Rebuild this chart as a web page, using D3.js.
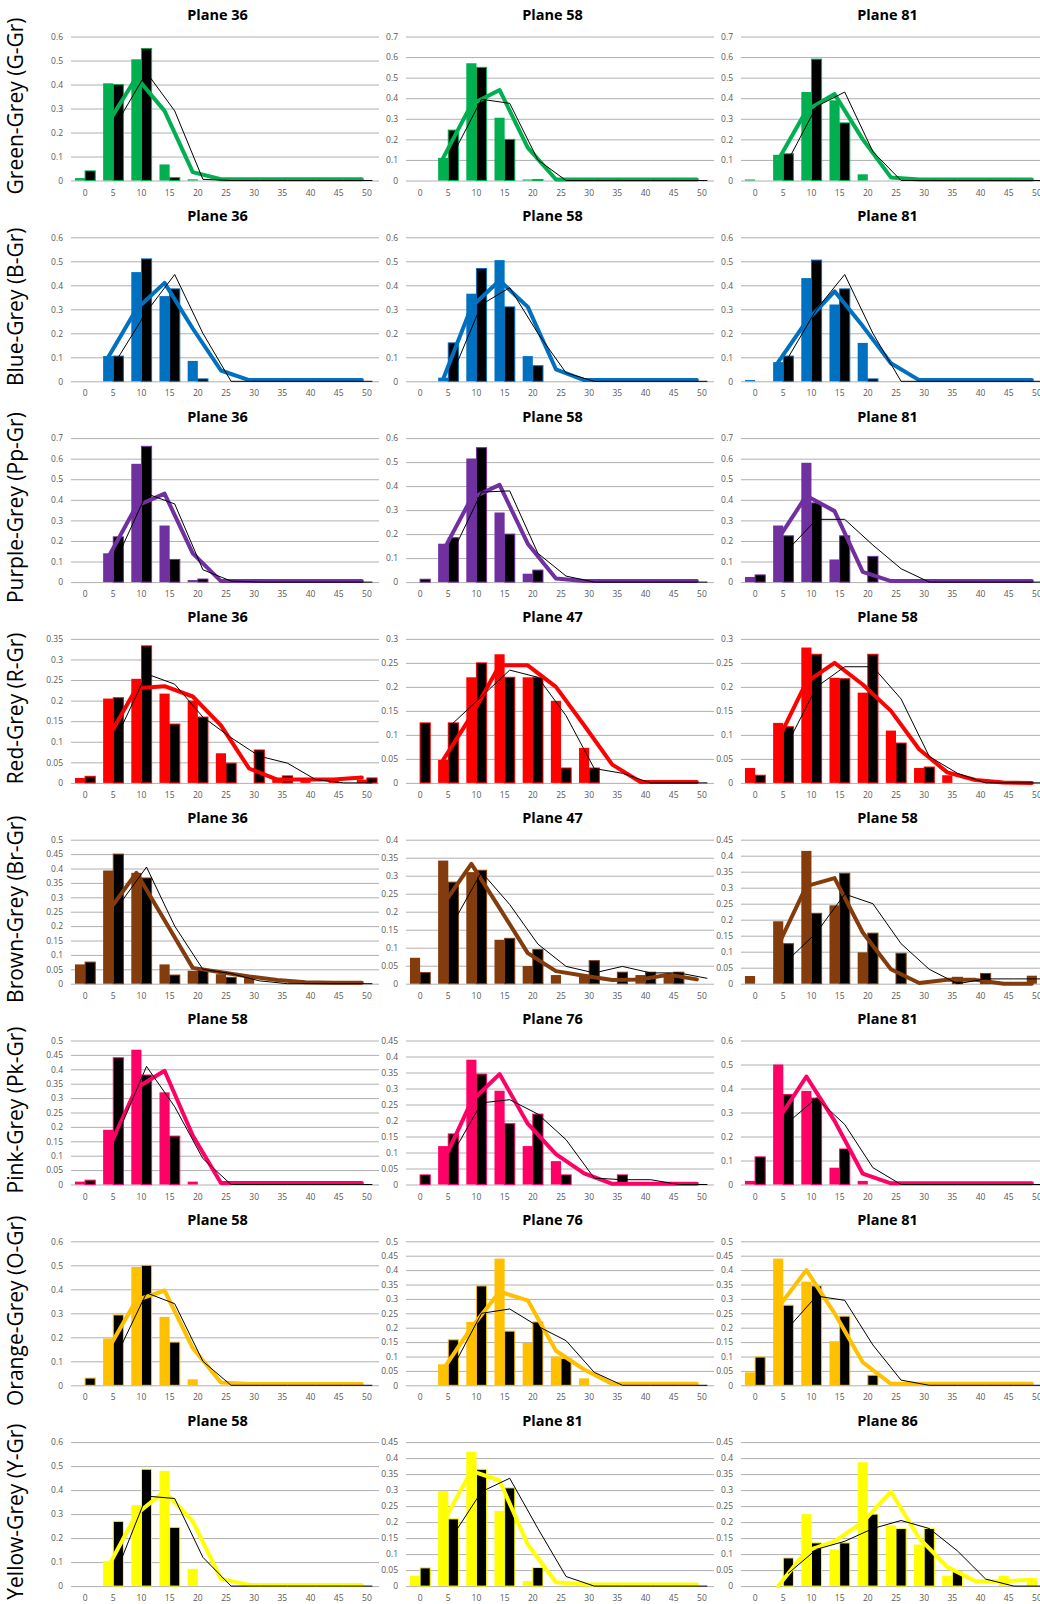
<!DOCTYPE html>
<html>
<head>
<meta charset="utf-8">
<script src="https://cdn.jsdelivr.net/npm/d3@7"></script>
<style>
  body { margin: 0; background: #fff; }
  svg { display: block; font-family: "Open Sans", sans-serif; }
</style>
</head>
<body>
<script>
const width = 1040,
      height = 1604;

const rowPitch = 200.8,
      plotTop = 36.5,
      plotBottom = 180.5,
      plotWidth = 310,
      colX = [71, 406, 741];

const categories = ["0", "5", "10", "15", "20", "25", "30", "35", "40", "45", "50"];

const rowLabels = ["Green-Grey (G-Gr)", "Blue-Grey (B-Gr)", "Purple-Grey (Pp-Gr)", "Red-Grey (R-Gr)",
                   "Brown-Grey (Br-Gr)", "Pink-Grey (Pk-Gr)", "Orange-Grey (O-Gr)", "Yellow-Grey (Y-Gr)"];
const rowColours = ["#00b050", "#0070c0", "#7030a0", "#ff0000", "#843c0c", "#ff0066", "#ffc000", "#ffff00"];

const planes = [
  [36, 58, 81], [36, 58, 81], [36, 58, 81], [36, 47, 58],
  [36, 47, 58], [58, 76, 81], [58, 76, 81], [58, 81, 86]
];

const yMax = [
  [0.6, 0.7, 0.7], [0.6, 0.6, 0.6], [0.7, 0.6, 0.7], [0.35, 0.3, 0.3],
  [0.5, 0.4, 0.45], [0.5, 0.45, 0.6], [0.6, 0.5, 0.5], [0.6, 0.45, 0.45]
];
const yStep = [
  [0.1, 0.1, 0.1], [0.1, 0.1, 0.1], [0.1, 0.1, 0.1], [0.05, 0.05, 0.05],
  [0.05, 0.05, 0.05], [0.05, 0.05, 0.1], [0.1, 0.05, 0.05], [0.1, 0.05, 0.05]
];

// coloured histogram, per row then per plane
const colourBars = [
  [[0.01, 0.405, 0.505, 0.067, 0.005, 0, 0, 0, 0, 0, 0],
   [0, 0.11, 0.57, 0.305, 0.005, 0, 0, 0, 0, 0, 0],
   [0.005, 0.125, 0.43, 0.39, 0.03, 0, 0, 0, 0, 0, 0]],
  [[0, 0.105, 0.455, 0.355, 0.085, 0, 0, 0, 0, 0, 0],
   [0, 0.015, 0.365, 0.505, 0.105, 0, 0, 0, 0, 0, 0],
   [0.005, 0.08, 0.43, 0.32, 0.16, 0, 0, 0, 0, 0, 0]],
  [[0, 0.14, 0.575, 0.275, 0.01, 0, 0, 0, 0, 0, 0],
   [0, 0.16, 0.515, 0.29, 0.035, 0, 0, 0, 0, 0, 0],
   [0.025, 0.275, 0.58, 0.11, 0, 0, 0, 0, 0, 0, 0]],
  [[0.012, 0.205, 0.253, 0.217, 0.2, 0.072, 0, 0.01, 0.008, 0.01, 0.008],
   [0, 0.048, 0.22, 0.268, 0.22, 0.171, 0.073, 0, 0, 0, 0],
   [0.031, 0.125, 0.282, 0.219, 0.188, 0.109, 0.031, 0.016, 0, 0, 0]],
  [[0.067, 0.393, 0.385, 0.067, 0.045, 0.033, 0.02, 0, 0, 0.008, 0],
   [0.072, 0.342, 0.31, 0.122, 0.049, 0.024, 0.024, 0, 0.024, 0.024, 0],
   [0.024, 0.195, 0.415, 0.245, 0.098, 0, 0, 0, 0, 0, 0.025]],
  [[0.01, 0.19, 0.468, 0.32, 0.01, 0, 0, 0, 0, 0, 0],
   [0, 0.12, 0.39, 0.293, 0.12, 0.073, 0, 0, 0, 0, 0],
   [0.015, 0.5, 0.39, 0.07, 0.015, 0, 0, 0, 0, 0, 0]],
  [[0, 0.195, 0.493, 0.285, 0.025, 0, 0, 0, 0, 0, 0],
   [0, 0.073, 0.22, 0.44, 0.147, 0.1, 0.024, 0, 0, 0, 0],
   [0.045, 0.44, 0.36, 0.153, 0, 0, 0, 0, 0, 0, 0]],
  [[0, 0.105, 0.338, 0.48, 0.072, 0, 0, 0, 0, 0, 0],
   [0.032, 0.297, 0.42, 0.235, 0.016, 0, 0, 0, 0, 0, 0],
   [0, 0, 0.225, 0.115, 0.387, 0.19, 0.13, 0.032, 0, 0.032, 0.025]]
];

// grey (black) histogram
const greyBars = [
  [[0.04, 0.4, 0.55, 0.012, 0, 0, 0, 0, 0, 0, 0],
   [0, 0.245, 0.55, 0.2, 0.005, 0, 0, 0, 0, 0, 0],
   [0, 0.13, 0.59, 0.28, 0, 0, 0, 0, 0, 0, 0]],
  [[0, 0.105, 0.51, 0.385, 0.01, 0, 0, 0, 0, 0, 0],
   [0, 0.16, 0.47, 0.31, 0.065, 0, 0, 0, 0, 0, 0],
   [0, 0.105, 0.505, 0.385, 0.01, 0, 0, 0, 0, 0, 0]],
  [[0, 0.22, 0.66, 0.11, 0.015, 0, 0, 0, 0, 0, 0],
   [0.012, 0.185, 0.56, 0.2, 0.05, 0, 0, 0, 0, 0, 0],
   [0.035, 0.225, 0.385, 0.225, 0.125, 0, 0, 0, 0, 0, 0]],
  [[0.016, 0.207, 0.333, 0.143, 0.16, 0.048, 0.08, 0.017, 0, 0, 0.012],
   [0.125, 0.125, 0.25, 0.22, 0.22, 0.031, 0.031, 0, 0, 0, 0],
   [0.016, 0.117, 0.268, 0.217, 0.268, 0.083, 0.033, 0, 0, 0, 0]],
  [[0.075, 0.45, 0.367, 0.03, 0.05, 0.022, 0, 0, 0, 0, 0],
   [0.031, 0.282, 0.315, 0.126, 0.095, 0, 0.064, 0.032, 0.032, 0.032, 0],
   [0, 0.125, 0.22, 0.345, 0.158, 0.095, 0, 0.02, 0.032, 0, 0]],
  [[0.015, 0.44, 0.38, 0.168, 0, 0, 0, 0, 0, 0, 0],
   [0.03, 0.158, 0.345, 0.19, 0.22, 0.03, 0, 0.03, 0, 0, 0],
   [0.115, 0.375, 0.36, 0.148, 0, 0, 0, 0, 0, 0, 0]],
  [[0.03, 0.293, 0.5, 0.18, 0, 0, 0, 0, 0, 0, 0],
   [0, 0.158, 0.345, 0.188, 0.22, 0.093, 0, 0, 0, 0, 0],
   [0.098, 0.278, 0.345, 0.24, 0.035, 0, 0, 0, 0, 0, 0]],
  [[0, 0.27, 0.487, 0.245, 0, 0, 0, 0, 0, 0, 0],
   [0.057, 0.21, 0.365, 0.307, 0.058, 0, 0, 0, 0, 0, 0],
   [0, 0.088, 0.135, 0.135, 0.225, 0.18, 0.18, 0.045, 0, 0, 0]]
];

// fitted curve for the coloured histogram (starts at 5)
const colourFit = [
  [[null, 0.24, 0.43, 0.29, 0.035, 0.005, 0.005, 0.005, 0.005, 0.005, 0.005],
   [null, 0.11, 0.37, 0.44, 0.16, 0.005, 0.005, 0.005, 0.005, 0.005, 0.005],
   [null, 0.1, 0.34, 0.42, 0.2, 0.015, 0.005, 0.005, 0.005, 0.005, 0.005]],
  [[null, 0.1, 0.3, 0.41, 0.22, 0.045, 0.005, 0.005, 0.005, 0.005, 0.005],
   [null, 0.01, 0.31, 0.42, 0.31, 0.05, 0.005, 0.005, 0.005, 0.005, 0.005],
   [null, 0.08, 0.25, 0.375, 0.23, 0.075, 0.005, 0.005, 0.005, 0.005, 0.005]],
  [[null, 0.12, 0.37, 0.43, 0.14, 0.005, 0.005, 0.005, 0.005, 0.005, 0.005],
   [null, 0.13, 0.35, 0.405, 0.16, 0.015, 0.005, 0.005, 0.005, 0.005, 0.005],
   [null, 0.21, 0.42, 0.345, 0.05, 0.005, 0.005, 0.005, 0.005, 0.005, 0.005]],
  [[null, 0.11, 0.23, 0.235, 0.21, 0.14, 0.035, 0.008, 0.008, 0.008, 0.013],
   [null, 0.048, 0.14, 0.245, 0.245, 0.2, 0.12, 0.038, 0.002, 0.002, 0.002],
   [null, 0.09, 0.21, 0.25, 0.205, 0.15, 0.07, 0.022, 0.006, 0.001, 0]],
  [[null, 0.25, 0.385, 0.22, 0.055, 0.04, 0.025, 0.013, 0.005, 0.003, 0.003],
   [null, 0.22, 0.333, 0.21, 0.085, 0.035, 0.022, 0.01, 0.012, 0.025, 0.012],
   [null, 0.12, 0.305, 0.33, 0.16, 0.045, 0.002, 0.012, 0.012, 0, 0]],
  [[null, 0.12, 0.335, 0.395, 0.17, 0.005, 0.005, 0.005, 0.005, 0.005, 0.005],
   [null, 0.07, 0.26, 0.345, 0.19, 0.095, 0.035, 0.002, 0.002, 0.002, 0.002],
   [null, 0.27, 0.45, 0.265, 0.045, 0.005, 0.005, 0.005, 0.005, 0.005, 0.005]],
  [[null, 0.15, 0.355, 0.395, 0.155, 0.012, 0.005, 0.005, 0.005, 0.005, 0.005],
   [null, 0.055, 0.2, 0.325, 0.295, 0.12, 0.055, 0.005, 0.005, 0.005, 0.005],
   [null, 0.27, 0.4, 0.25, 0.08, 0.005, 0.005, 0.005, 0.005, 0.005, 0.005]],
  [[null, 0.08, 0.3, 0.395, 0.27, 0.03, 0.005, 0.005, 0.005, 0.005, 0.005],
   [null, 0.2, 0.36, 0.33, 0.13, 0.012, 0.005, 0.005, 0.005, 0.005, 0.005],
   [null, 0, 0.11, 0.14, 0.2, 0.295, 0.15, 0.06, 0.015, 0.015, 0.02]]
];

// fitted curve for the grey histogram
const greyFit = [
  [[null, 0.25, 0.45, 0.29, 0.005, 0, 0, 0, 0, 0, 0],
   [null, 0.13, 0.395, 0.375, 0.1, 0, 0, 0, 0, 0, 0],
   [null, 0.1, 0.36, 0.43, 0.14, 0, 0, 0, 0, 0, 0]],
  [[null, 0.1, 0.29, 0.445, 0.2, 0, 0, 0, 0, 0, 0],
   [null, 0.04, 0.32, 0.39, 0.2, 0.035, 0, 0, 0, 0, 0],
   [null, 0.1, 0.3, 0.445, 0.2, 0, 0, 0, 0, 0, 0]],
  [[null, 0.13, 0.43, 0.38, 0.06, 0.005, 0, 0, 0, 0, 0],
   [null, 0.13, 0.375, 0.38, 0.12, 0.025, 0, 0, 0, 0, 0],
   [null, 0.16, 0.305, 0.305, 0.18, 0.065, 0, 0, 0, 0, 0]],
  [[null, 0.12, 0.265, 0.24, 0.16, 0.11, 0.065, 0.048, 0.008, 0, 0],
   [null, 0.125, 0.18, 0.235, 0.22, 0.14, 0.03, 0.02, 0, 0, 0],
   [null, 0.085, 0.2, 0.242, 0.242, 0.175, 0.055, 0.02, 0, 0, 0]],
  [[null, 0.27, 0.405, 0.2, 0.05, 0.035, 0.01, 0, 0, 0, 0],
   [null, 0.17, 0.31, 0.22, 0.11, 0.048, 0.03, 0.048, 0.03, 0.03, 0.015],
   [null, 0.075, 0.16, 0.28, 0.25, 0.125, 0.045, 0, 0.015, 0.015, 0.015]],
  [[null, 0.18, 0.41, 0.27, 0.09, 0, 0, 0, 0, 0, 0],
   [null, 0.1, 0.255, 0.265, 0.22, 0.14, 0.02, 0.015, 0.015, 0, 0],
   [null, 0.26, 0.36, 0.25, 0.07, 0, 0, 0, 0, 0, 0]],
  [[null, 0.14, 0.385, 0.34, 0.1, 0, 0, 0, 0, 0, 0],
   [null, 0.065, 0.25, 0.265, 0.205, 0.155, 0.045, 0, 0, 0, 0],
   [null, 0.2, 0.31, 0.295, 0.14, 0.018, 0, 0, 0, 0, 0]],
  [[null, 0.08, 0.375, 0.365, 0.12, 0, 0, 0, 0, 0, 0],
   [null, 0.16, 0.295, 0.337, 0.18, 0.03, 0, 0, 0, 0, 0],
   [null, 0.04, 0.115, 0.14, 0.18, 0.205, 0.18, 0.11, 0.022, 0, 0]]
];

const tickFormat = v => String(+v.toFixed(2));

const svg = d3.select("body").append("svg")
    .attr("width", width)
    .attr("height", height);

rowLabels.forEach((label, r) => {
    const rowTop = r * rowPitch;
    const colour = rowColours[r];

    svg.append("text")
      .attr("transform", `translate(23,${rowTop + 106}) rotate(-90)`)
      .attr("text-anchor", "middle")
      .style("font-size", "21px")
      .text(label);

    planes[r].forEach((plane, c) => {
        const x0 = colX[c];
        const x = d3.scaleBand()
          .domain(categories)
          .range([x0, x0 + plotWidth])
          .paddingInner(0.28)
          .paddingOuter(0.14);
        const sub = d3.scaleBand()
          .domain(["colour", "grey"])
          .range([0, x.bandwidth()]);
        const y = d3.scaleLinear()
          .domain([0, yMax[r][c]])
          .range([rowTop + plotBottom, rowTop + plotTop]);
        const ticks = d3.range(0, yMax[r][c] + yStep[r][c] / 2, yStep[r][c]);

        const g = svg.append("g").attr("class", "panel");

        g.append("text")
          .attr("x", x0 + 146.5)
          .attr("y", rowTop + 20)
          .attr("text-anchor", "middle")
          .style("font-size", "14.5px")
          .style("font-weight", 700)
          .text(`Plane ${plane}`);

        // gridlines + y labels
        const yAxis = g.append("g")
          .attr("transform", `translate(${x0},0)`)
          .call(d3.axisLeft(y).tickValues(ticks).tickSize(-308).tickPadding(8).tickFormat(tickFormat));
        yAxis.select(".domain").remove();
        yAxis.selectAll("line").attr("stroke", "#b0b0b0");
        yAxis.selectAll("text")
          .attr("fill", "#595959")
          .style("font-size", "8.5px")
          .style("font-family", "'Open Sans', sans-serif");

        const xAxis = g.append("g")
          .attr("transform", `translate(0,${rowTop + plotBottom})`)
          .call(d3.axisBottom(x).tickSize(0).tickPadding(9));
        xAxis.select(".domain").remove();
        xAxis.selectAll("text")
          .attr("fill", "#595959")
          .style("font-size", "8.5px")
          .style("font-family", "'Open Sans', sans-serif");

        const series = [
          {key: "colour", values: colourBars[r][c], fill: colour, stroke: "none"},
          {key: "grey", values: greyBars[r][c], fill: "#000", stroke: colour}
        ];
        series.forEach(s => {
            g.selectAll(null)
              .data(categories.map((cat, i) => ({cat, v: s.values[i]})).filter(d => d.v > 0))
              .enter().append("rect")
              .attr("x", d => x(d.cat) + sub(s.key))
              .attr("y", d => y(d.v))
              .attr("width", sub.bandwidth())
              .attr("height", d => y(0) - y(d.v))
              .attr("fill", s.fill)
              .attr("stroke", s.stroke)
              .attr("stroke-width", 1);
        });

        const fits = [
          {key: "colour", values: colourFit[r][c], stroke: colour, width: 4},
          {key: "grey", values: greyFit[r][c], stroke: "#000", width: 1}
        ];
        fits.forEach(f => {
            const line = d3.line()
              .defined(d => d.v !== null)
              .x(d => x(d.cat) + sub(f.key) + sub.bandwidth() / 2)
              .y(d => y(d.v));
            g.append("path")
              .datum(categories.map((cat, i) => ({cat, v: f.values[i]})))
              .attr("d", line)
              .attr("fill", "none")
              .attr("stroke", f.stroke)
              .attr("stroke-width", f.width)
              .attr("stroke-linejoin", "round")
              .attr("stroke-linecap", "round");
        });
    });
});
</script>
</body>
</html>
